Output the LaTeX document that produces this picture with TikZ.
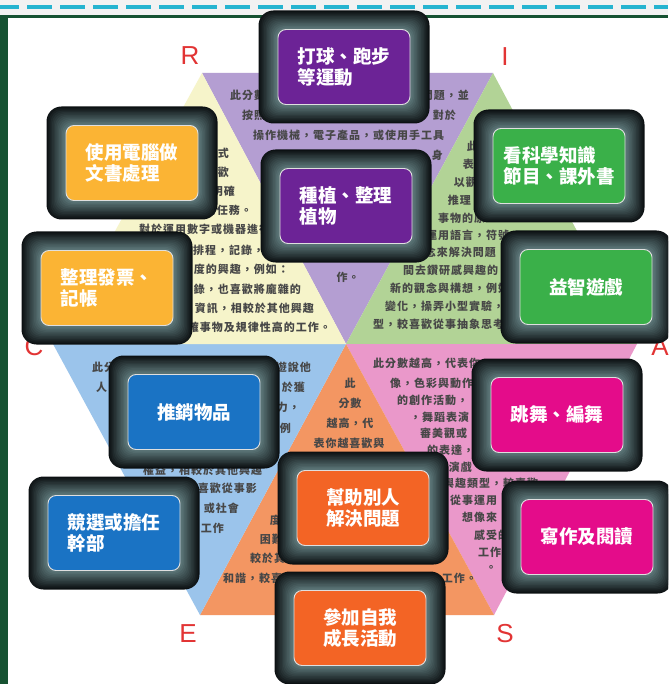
\documentclass[tikz,border=0pt]{standalone}
\usepackage{fontspec}
\setmainfont{Liberation Sans}
\newfontfamily\cjk{Noto Sans CJK TC}
\newfontfamily\cjkpara[LetterSpace=9]{Noto Sans CJK TC}

\definecolor{topgray}{RGB}{242,242,242}
\definecolor{dashcyan}{RGB}{38,180,208}
\definecolor{edgegreen}{RGB}{22,82,50}
\definecolor{letterRed}{RGB}{226,52,52}
\definecolor{secR}{RGB}{180,158,210} % 紫
\definecolor{secI}{RGB}{178,211,150} % 綠
\definecolor{secA}{RGB}{234,152,202} % 粉
\definecolor{secS}{RGB}{243,150,98}  % 橘
\definecolor{secE}{RGB}{155,196,235} % 藍
\definecolor{secC}{RGB}{246,244,202} % 黃
\definecolor{cardR}{RGB}{108,35,150}
\definecolor{cardC}{RGB}{251,180,52}
\definecolor{cardI}{RGB}{58,176,73}
\definecolor{cardE}{RGB}{26,115,196}
\definecolor{cardS}{RGB}{243,100,37}
\definecolor{cardA}{RGB}{228,12,138}
\definecolor{frameIn}{RGB}{98,126,128}
\definecolor{frameOut}{RGB}{12,16,18}

\tikzset{
  para/.style={inner sep=0pt, text=black!72, font=\cjkpara\bfseries\fontsize{11}{12}\selectfont},
  darkframe/.style={fill=frameOut, rounded corners=15pt, minimum width=171pt, minimum height=113pt, inner sep=0pt,
    path picture={
      \foreach \k [evaluate=\k as \d using \k*1.4, evaluate=\k as \p using \k*7.5] in {1,...,12}
        \fill[frameIn!\p!frameOut, rounded corners=11pt]
          ([shift={(\d pt,-\d pt)}]path picture bounding box.north west) rectangle
          ([shift={(-\d pt,\d pt)}]path picture bounding box.south east);
    }},
  card/.style={rounded corners=8pt, draw=white!75!gray, line width=0.9pt, minimum width=132pt, minimum height=75pt, inner sep=0pt, text=white, align=left, font=\cjk\bfseries\fontsize{18.5}{20.5}\selectfont},
  vlabel/.style={inner sep=0pt, text=letterRed, font=\fontsize{26}{26}\selectfont}
}

\begin{document}
\begin{tikzpicture}[x=1pt,y=-1pt]
 \useasboundingbox (0,0) rectangle (668,684);
 \clip (0,0) rectangle (668,684);
 \fill[white] (0,0) rectangle (668,684);
 \fill[topgray] (0,0) rectangle (668,15); %上方灰條
 \draw[dashcyan, line width=4pt, dash pattern=on 25pt off 8pt, dash phase=6pt] (0,7)--(668,7); %虛線
 \fill[edgegreen] (0,15) rectangle (668,18); %綠框上緣
 \fill[edgegreen] (0,15) rectangle (8,684); %綠框左緣

 \coordinate (O) at (346,344); %六邊形中心
 \coordinate (PR) at (202,73); %左上
 \coordinate (PI) at (493,73); %右上
 \coordinate (PA) at (637,344); %右
 \coordinate (PS) at (494,615); %右下
 \coordinate (PE) at (200,615); %左下
 \coordinate (PC) at (53,344); %左
 \fill[secR] (O)--(PR)--(PI)--cycle;
 \fill[secI] (O)--(PI)--(PA)--cycle;
 \fill[secA] (O)--(PA)--(PS)--cycle;
 \fill[secS] (O)--(PS)--(PE)--cycle;
 \fill[secE] (O)--(PE)--(PC)--cycle;
 \fill[secC] (O)--(PC)--(PR)--cycle;

 % R區文字
 \node[para, anchor=west] (r1a) at (230,95) {此分數};
 \node[para, anchor=east] (r1b) at (469,95) {問題，並};
 \node[para, anchor=west] (r2a) at (242,115) {按照};
 \node[para, anchor=east] (r2b) at (456,115) {，對於};
 \node[para, anchor=west] (r3) at (253,135) {操作機械，電子產品，或使用手工具};
 \node[para, anchor=east] (r4) at (443,155) {身};
 \node[para] (r5) at (348,277) {作。};

 % C區文字
 \node[para, anchor=east] (c1) at (229,153) {式};
 \node[para, anchor=east] (c2) at (229,172) {歡};
 \node[para, anchor=east] (c3) at (235,191) {明確};
 \node[para, anchor=east] (c4) at (252,210) {的任務。};
 \node[para, anchor=west] (c5) at (139,229) {對於運用數字或機器進行};
 \node[para, anchor=west] (c6) at (193,250) {排程，記錄，};
 \node[para, anchor=east] (c7) at (289,269) {度的興趣，例如：};
 \node[para, anchor=east] (c8) at (301,289) {錄，也喜歡將龐雜的};
 \node[para, anchor=east] (c9) at (314,308) {資訊，相較於其他興趣};
 \node[para, anchor=east] (c10) at (331,327) {確事物及規律性高的工作。};

 % I區文字
 \node[para, anchor=east] (i1) at (478,146) {此};
 \node[para, anchor=east] (i2) at (474,164) {表};
 \node[para, anchor=east] (i3) at (477,182) {以觀};
 \node[para, anchor=east] (i4) at (471,200) {推理};
 \node[para, anchor=west] (i5) at (438,218) {事物的原};
 \node[para, anchor=west] (i6) at (426,235) {運用語言，符號};
 \node[para, anchor=east] (i7) at (496,252) {念來解決問題};
 \node[para, anchor=west] (i8) at (403,270) {間去鑽研感興趣的};
 \node[para, anchor=west] (i9) at (390,288) {新的觀念與構想，例如};
 \node[para, anchor=west] (i10) at (385,306) {變化，操弄小型實驗，};
 \node[para, anchor=west] (i11) at (373,324) {型，較喜歡從事抽象思考};

 % E區文字
 \node[para, anchor=west] (e1a) at (92,367) {此分};
 \node[para, anchor=east] (e1b) at (311,367) {遊說他};
 \node[para, anchor=west] (e2a) at (96,387) {人};
 \node[para, anchor=east] (e2b) at (305,387) {於獲};
 \node[para, anchor=east] (e3) at (300,407) {力，};
 \node[para, anchor=east] (e4) at (291,428) {例};
 \node[para, anchor=west] (e5) at (143,470) {權益，相較於其他興趣};
 \node[para, anchor=east] (e6) at (257,488) {喜歡從事影};
 \node[para, anchor=east] (e7) at (239,508) {或社會};
 \node[para, anchor=east] (e8) at (224,528) {工作};

 % S區文字
 \node[para] (s1) at (350,383) {此};
 \node[para] (s2) at (350,403) {分數};
 \node[para] (s3) at (350,423) {越高，代};
 \node[para] (s4) at (349,443) {表你越喜歡與};
 \node[para, anchor=east] (s5) at (281,520) {度};
 \node[para, anchor=east] (s6) at (283,539) {困難};
 \node[para, anchor=west] (s7) at (250,558) {較於其};
 \node[para, anchor=west] (s8a) at (223,578) {和諧，較喜};
 \node[para, anchor=east] (s8b) at (477,578) {工作。};

 % A區文字
 \node[para, anchor=west] (a1) at (373,363) {此分數越高，代表你};
 \node[para, anchor=west] (a2) at (390,383) {像，色彩與動作};
 \node[para, anchor=west] (a3) at (397,400) {的創作活動，};
 \node[para, anchor=west] (a4) at (410,417) {，舞蹈表演};
 \node[para, anchor=west] (a5) at (420,433) {審美觀或};
 \node[para, anchor=west] (a6) at (427,450) {的表達，};
 \node[para, anchor=east] (a7) at (472,467) {演戲};
 \node[para, anchor=west] (a8) at (443,483) {興趣類型，較喜歡};
 \node[para, anchor=west] (a9) at (450,500) {從事運用};
 \node[para, anchor=west] (a10) at (462,517) {想像來};
 \node[para, anchor=west] (a11) at (474,535) {感受的};
 \node[para, anchor=west] (a12) at (478,552) {工作};
 \node[para] (a13) at (491,568) {。};

 % 六個字母
 \node[vlabel] (lR) at (190,56) {R};
 \node[vlabel] (lI) at (505,57) {I};
 \node[vlabel] (lC) at (34,347) {C};
 \node[vlabel] (lA) at (660,347) {A};
 \node[vlabel] (lE) at (188,634) {E};
 \node[vlabel] (lS) at (505,634) {S};

 % 活動卡片
 \node[darkframe] (sportF) at (344,67) {};
 \node[card, fill=cardR] (sport) at (sportF) {打球、跑步\\等運動};
 \node[darkframe] (plantF) at (346,206) {};
 \node[card, fill=cardR] (plant) at (plantF) {種植、整理\\植物};
 \node[darkframe] (typingF) at (132,163) {};
 \node[card, fill=cardC] (typing) at (typingF) {使用電腦做\\文書處理};
 \node[darkframe] (invoiceF) at (107,288) {};
 \node[card, fill=cardC] (invoice) at (invoiceF) {整理發票、\\記帳};
 \node[darkframe] (scienceF) at (559,166) {};
 \node[card, fill=cardI] (science) at (scienceF) {看科學知識\\節目、課外書};
 \node[darkframe] (puzzleF) at (586,287) {};
 \node[card, fill=cardI] (puzzle) at (puzzleF) {益智遊戲};
 \node[darkframe] (salesF) at (194,412) {};
 \node[card, fill=cardE] (sales) at (salesF) {推銷物品};
 \node[darkframe] (leaderF) at (114,533) {};
 \node[card, fill=cardE] (leader) at (leaderF) {競選或擔任\\幹部};
 \node[darkframe] (helpingF) at (363,508) {};
 \node[card, fill=cardS] (helping) at (helpingF) {幫助別人\\解決問題};
 \node[darkframe] (growthF) at (360,628) {};
 \node[card, fill=cardS] (growth) at (growthF) {參加自我\\成長活動};
 \node[darkframe] (danceF) at (557,415) {};
 \node[card, fill=cardA] (dance) at (danceF) {跳舞、編舞};
 \node[darkframe] (writingF) at (587,537) {};
 \node[card, fill=cardA] (writing) at (writingF) {寫作及閱讀};
\end{tikzpicture}
\end{document}
